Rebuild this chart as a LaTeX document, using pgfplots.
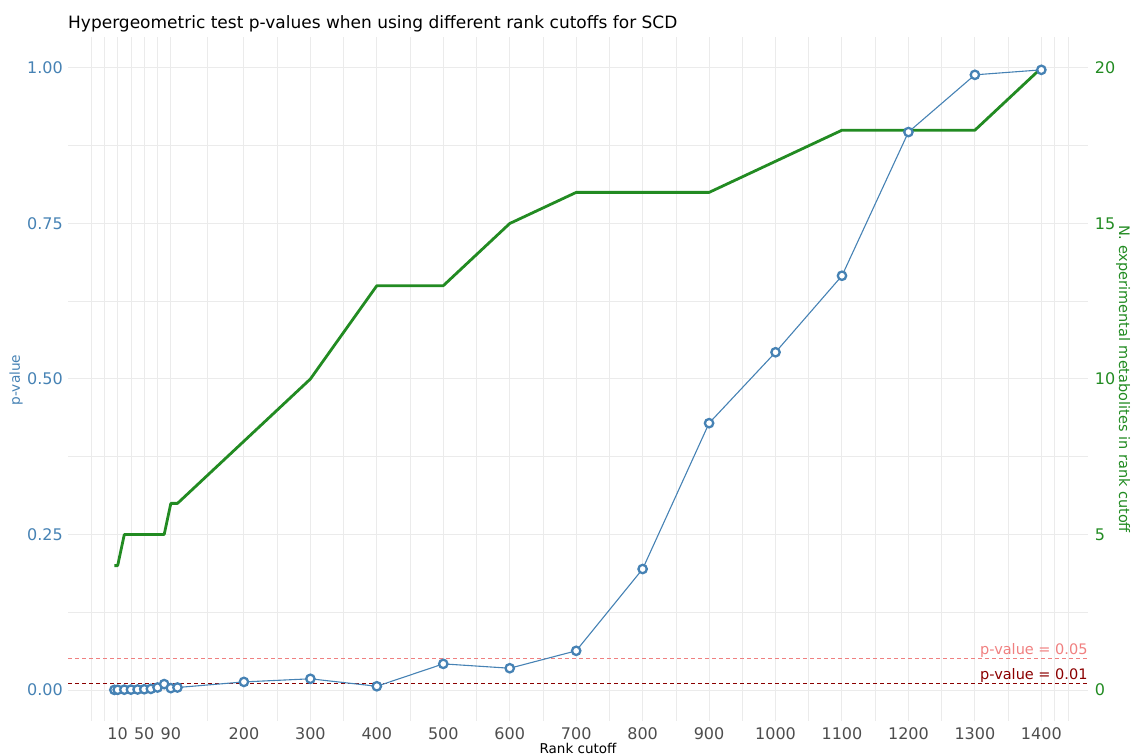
\documentclass[border=0pt]{standalone}
\usepackage{fontspec}
\setmainfont{DejaVu Sans}
\usepackage{pgfplots}
\usepackage{pgfplotstable}
\pgfplotsset{compat=1.18}
\definecolor{pblue}{HTML}{4682B4}
\definecolor{pgreen}{HTML}{228B22}
\definecolor{gridc}{HTML}{EBEBEB}
\definecolor{pinkc}{HTML}{F08080}
\definecolor{dred}{HTML}{8B0000}
\definecolor{tickgray}{HTML}{4D4D4D}

\pgfplotstableread{
x p n
5 0.0002 4
10 0.0003 4
20 0.0005 5
30 0.0006 5
40 0.0008 5
50 0.0012 5
60 0.0018 5
70 0.0040 5
80 0.0095 5
90 0.0030 6
100 0.0040 6
200 0.013 8
300 0.018 10
400 0.006 13
500 0.042 13
600 0.035 15
700 0.063 16
800 0.1945 16
900 0.429 16
1000 0.543 17
1100 0.666 18
1200 0.897 18
1300 0.989 18
1400 0.997 20
}\data

\begin{document}
\begin{tikzpicture}[x=1pt,y=1pt]
\path[use as bounding box] (0,0) rectangle (1132,755);
\pgfplotsset{
  every axis/.append style={
    scale only axis, width=1019.7pt, height=684.2pt,
    at={(68pt,33.9pt)}, anchor=south west,
    xmin=-64.75, xmax=1469.75,
    axis line style={draw=none},
    major tick length=0pt, minor tick length=0pt,
    clip=false,
  }
}
% Axis A: grid, x tick labels, right axis, green line
\begin{axis}[
  ymin=-1, ymax=21,
  xtick={10,50,90,200,300,400,500,600,700,800,900,1000,1100,1200,1300,1400},
  xticklabels={10,50,90,200,300,400,500,600,700,800,900,1000,1100,1200,1300,1400},
  minor xtick={-30,-10,30,70,145,250,350,450,550,650,750,850,950,1050,1150,1250,1350,1420,1440},
  ytick={0,5,10,15,20},
  yticklabels={0,5,10,15,20},
  minor ytick={2.5,7.5,12.5,17.5},
  yticklabel pos=right,
  grid=both,
  major grid style={gridc, line width=1pt},
  minor grid style={gridc, line width=0.55pt},
  xticklabel style={font=\fontsize{16}{16}\selectfont, text=tickgray, anchor=base, inner sep=0pt, yshift=-18pt},
  yticklabel style={font=\fontsize{16}{16}\selectfont, text=pgreen, anchor=west, inner sep=0pt, xshift=7pt},
]
\addplot[pgreen, line width=2.8pt, line join=round] table[x=x,y=n]{\data};
\end{axis}
% Axis B: p-values
\begin{axis}[
  ymin=-0.05, ymax=1.05,
  xtick=\empty,
  ytick={0,0.25,0.5,0.75,1},
  yticklabels={0.00,0.25,0.50,0.75,1.00},
  yticklabel style={font=\fontsize{16}{16}\selectfont, text=pblue, anchor=east, inner sep=0pt, xshift=-5pt},
]
\addplot[pinkc, dashed, line width=0.8pt, dash pattern=on 4pt off 3pt] coordinates {(-64.75,0.05) (1469.75,0.05)};
\addplot[dred, dashed, line width=0.8pt, dash pattern=on 4pt off 3pt] coordinates {(-64.75,0.01) (1469.75,0.01)};
\addplot[pblue, line width=1.1pt, mark=*, mark size=4.2pt, mark options={draw=pblue, fill=white, line width=2.3pt}] table[x=x,y=p]{\data};
\node[anchor=base east, text=pinkc, font=\fontsize{14.5}{14.5}\selectfont, inner sep=0pt] at (axis cs:1469.75,0.05) [yshift=4.5pt] {p-value = 0.05};
\node[anchor=base east, text=dred, font=\fontsize{14.5}{14.5}\selectfont, inner sep=0pt] at (axis cs:1469.75,0.01) [yshift=4.5pt] {p-value = 0.01};
\node[anchor=base west, font=\fontsize{17}{17}\selectfont, inner sep=0pt] at (rel axis cs:0,1) [yshift=8pt] {Hypergeometric test p-values when using different rank cutoffs for SCD};
\end{axis}
\node[rotate=-90, anchor=center, text=pgreen, font=\fontsize{14.5}{14.5}\selectfont, inner sep=0pt] at (1123,376) {N. experimental metabolites in rank cutoff};
\node[rotate=90, anchor=center, text=pblue, font=\fontsize{13.7}{13.7}\selectfont, inner sep=0pt] at (16,375) {p-value};
\node[anchor=base, text=black, font=\fontsize{13.5}{13.5}\selectfont, inner sep=0pt] at (578,2) {Rank cutoff};
\end{tikzpicture}
\end{document}
